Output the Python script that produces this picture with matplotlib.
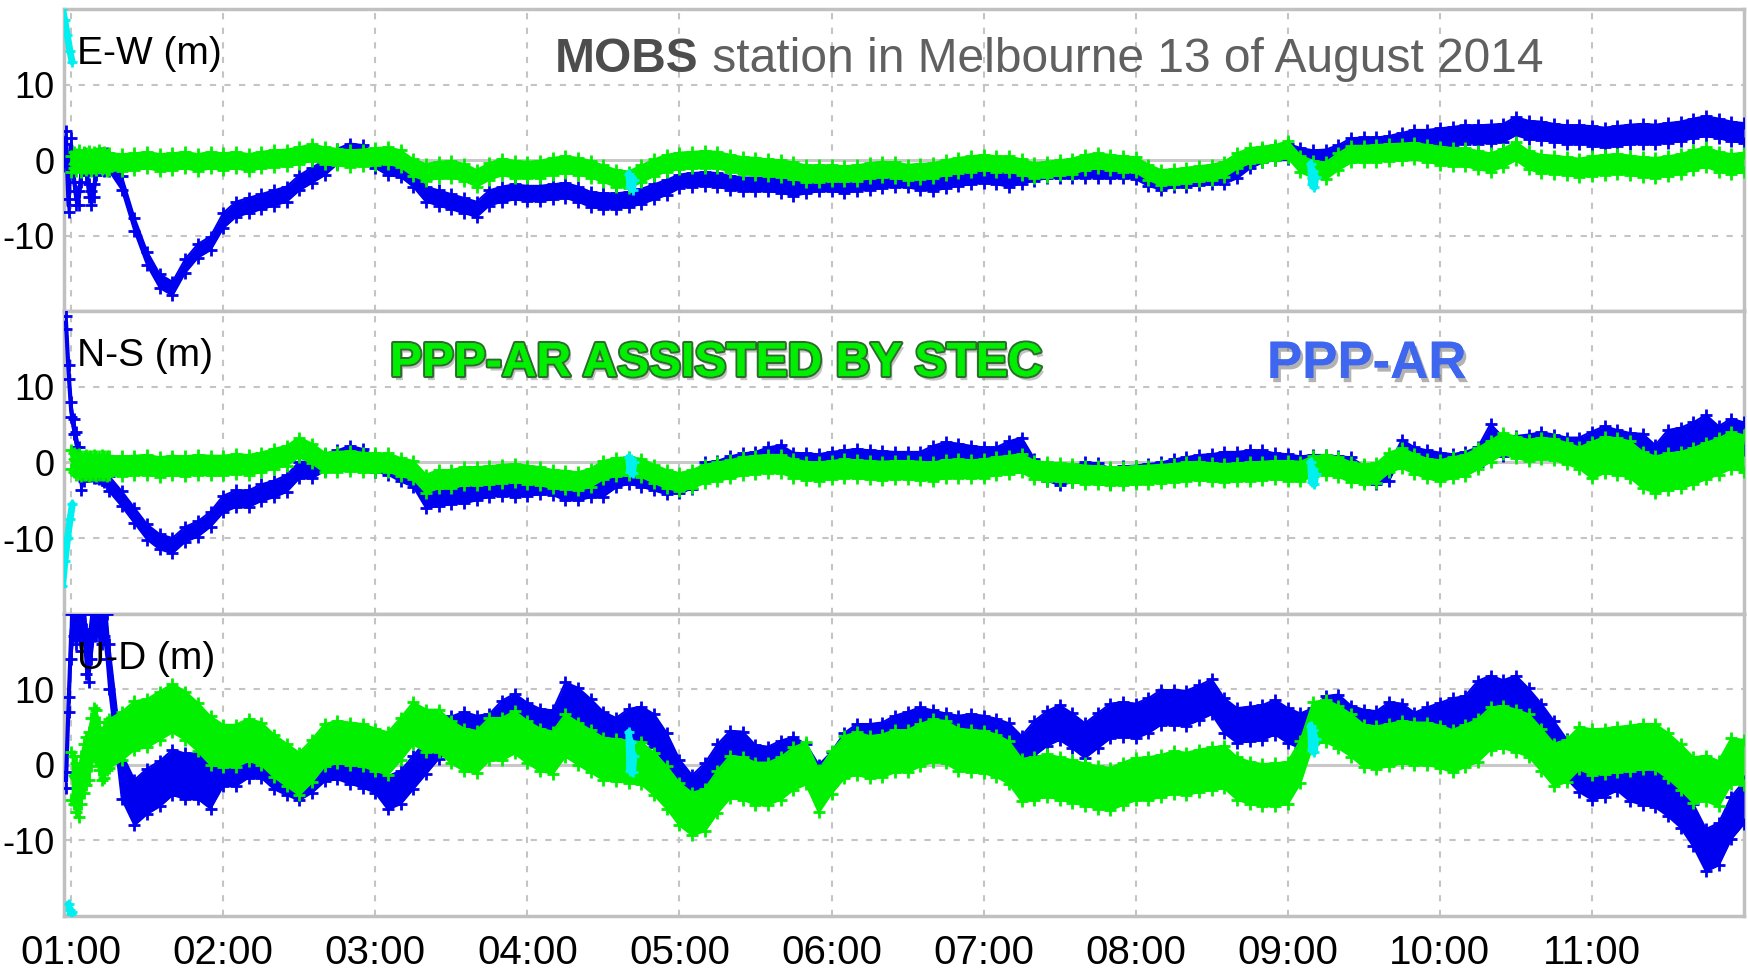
import numpy as np
import matplotlib
matplotlib.use("Agg")
import matplotlib.pyplot as plt
from matplotlib import font_manager
import matplotlib.patheffects as pe

# ---------------------------------------------------------------------------
# Time axis: minutes after 01:00 (1-min steps during start-up, then 5-min)
# ---------------------------------------------------------------------------
head_min = list(range(-3, 15))
body_min = list(range(15, 661, 5))
minutes = np.array(head_min + body_min, dtype=float)

nan = np.nan

# East-West (m)
ew_ppp_ar = [
    0, 3, -6, 2, -2, -5, -5, -2, 0, -1, -4, -5, -4, -1, 0, 0, -0.5, 0,
    -0.5, -3, -8.5, -13, -16, -17, -14, -12, -11, -8,
    -6.5, -6, -5.5, -5, -4.5, -3, -2, -1, 0.5, 1.2, 1, 0,
    -1, -1.2, -2.5, -4.5, -5, -5.5, -6, -6.5, -5, -4.5, -4.2, -4.4,
    -4.4, -4.2, -4, -4.5, -5.2, -5.4, -5.4, -5.2, -4.8, -4.2, -3.6, -2.8,
    -2.6, -2.5, -2.6, -3, -3.2, -3.2, -3.2, -3.4, -3.8, -3.5, -3.2, -3.2,
    -3.4, -3.2, -3, -2.8, -2.6, -2.7, -3, -3.2, -2.8, -2.5, -2.3, -2.1,
    -2.3, -2.6, -2.2, -1.8, -1.5, -1.4, -1.5, -1.4, -1.4, -1.5, -1.4, -1.6,
    -2.5, -3, -2.7, -2.6, -2.4, -2.3, -2.2, -1.5, -0.2, 0.6, 0.9, 1.2,
    0.6, 0.3, 0.4, 1, 1.9, 2, 2, 2.2, 2.6, 3, 3, 3,
    3.2, 3.4, 3.4, 3.5, 3.6, 4.5, 4, 3.9, 3.6, 3.4, 3.4, 3.2,
    3, 3.2, 3.4, 3.5, 3.4, 3.6, 3.8, 4.2, 4.5, 4.2, 3.8, 3.6,
]
ew_ppp_ar_stec = [
    nan, nan, nan, -0.5, 0, -0.3, 0.2, -0.4, 0, -0.2, 0.1, -0.3, 0, -0.2, 0.2, -0.1, 0, -0.3,
    -0.2, -0.3, -0.2, 0, -0.3, -0.2, 0, -0.3, 0, -0.2,
    0, -0.3, 0, 0.2, 0.3, 0.6, 1, 0.6, 0.4, 0.2, 0.3, 0.5,
    0.6, 0.2, -1, -1.6, -1.3, -1.2, -1.6, -2.4, -1.5, -0.9, -1.2, -1.3,
    -1.2, -0.8, -0.6, -0.8, -1.2, -1.8, -2.4, -2.6, -1.8, -1, -0.4, -0.1,
    0, 0.1, 0, -0.4, -0.7, -0.8, -1, -1.1, -1.4, -1.8, -1.8, -1.7,
    -1.8, -1.7, -1.4, -1.2, -1.3, -1.6, -1.5, -1.4, -1, -0.7, -0.5, -0.3,
    -0.5, -0.5, -0.9, -1.4, -1.2, -1, -0.8, -0.3, -0.1, -0.3, -0.5, -0.6,
    -1.6, -2.3, -2.2, -2, -1.8, -1.6, -1.2, -0.1, 0.6, 0.8, 1, 1.4,
    -0.5, -1.2, -1.4, -0.2, 0.8, 0.8, 0.9, 1, 1.1, 1.2, 0.9, 0.6,
    0.4, 0.4, 0, -0.3, 0.3, 1.2, 0, -0.5, -0.6, -0.8, -1, -0.8,
    -0.6, -0.5, -0.7, -0.9, -1, -0.8, -0.5, 0, 0.4, -0.2, -0.5, -0.3,
]

# North-South (m)
ns_ppp_ar = [
    nan, 18.5, 12, 7, 4.8, 3, 1, -2.6, -1.5, -0.4, -0.6, -0.8, -1, -1, -1.2, -1.3, -1.6, -2,
    -2.8, -4.8, -7, -9.2, -10.5, -11, -9.5, -8.8, -7.5, -5.5,
    -4.8, -4.8, -4, -3.5, -2.8, -1, -1, 0, 0.5, 1.1, 0.7, -0.2,
    -0.6, -1.5, -2.2, -5, -4.8, -4.5, -4.4, -4, -3.5, -3.4, -3.5, -3.4,
    -3.2, -3.3, -4, -4, -3.6, -3.5, -2.3, -1.8, -2.2, -2.7, -3.2, -3,
    -2.5, -1, -0.8, -0.2, 0.2, 0.4, 1, 1.3, 0.3, 0.2, 0.1, 0.4,
    0.6, 0.8, 0.6, 0.5, 0.4, 0.4, 0.4, 1.2, 1.7, 1.5, 1.2, 1,
    1, 1.8, 2.3, -0.5, -1.4, -2, -1.6, -1, -1.1, -1.8, -1.5, -1.4,
    -1.2, -1, -0.6, -0.3, 0, 0.1, 0.4, 0.4, 0.6, 0.6, 0.2, 0.1,
    -0.2, 0, 0, -0.2, -0.3, -1.5, -1.8, -1.4, 2, 1, 0.6, 0.1,
    -0.1, 0.2, 0.8, 3.9, 2.1, 2.3, 2.5, 2.8, 2.5, 2.1, 2.1, 2.3,
    3, 2.5, 2.1, 2, 0.5, 2.5, 2.8, 3.5, 4.5, 3, 4, 3.5,
]
ns_ppp_ar_stec = [
    nan, nan, nan, 0.4, 0, -0.3, -0.2, -0.5, -0.4, -0.3, -0.5, -0.4, -0.3, -0.5, -0.4, -0.3, -0.4, -0.5,
    -0.4, -0.5, -0.4, -0.3, -0.6, -0.4, -0.5, -0.3, -0.4, -0.4,
    -0.2, -0.3, 0, 0.5, 0.9, 2, 1.2, 0, 0.1, 0.2, 0, 0,
    0, -0.6, -1, -2.8, -2.2, -2.2, -1.8, -1.8, -1.7, -1.5, -1.4, -1.6,
    -1.8, -2.2, -2.3, -2.5, -2, -1, -0.6, -0.5, -0.7, -1.5, -2.2, -2.6,
    -2.2, -1.5, -1.2, -0.9, -0.5, -0.3, -0.2, -0.2, -0.8, -1.1, -1.2, -1,
    -0.8, -0.9, -1, -1.1, -1, -1, -1.1, -1.2, -0.9, -0.8, -0.9, -0.8,
    -0.5, -0.3, -0.1, -1, -1.2, -1.3, -1.4, -1.6, -1.7, -1.8, -1.8, -1.7,
    -1.6, -1.5, -1.4, -1.2, -1.1, -1.3, -1.4, -1.3, -1.2, -1.1, -1, -1.1,
    -1.2, -0.5, -0.3, -0.6, -1.3, -1.5, -1.4, 0, 0.6, -0.2, -0.8, -1.1,
    -0.7, -0.4, 0.5, 1.5, 2.5, 2, 1.6, 1.9, 1.7, 1.2, 0.6, 0.3,
    1, 0.8, 0.4, -1, -1.6, -1.2, -1, -0.5, 0.2, 0.8, 1.6, 1.2,
]

# Up-Down (m)
ud_ppp_ar = [
    nan, -2, 8, 17, 20, 19, 20, 18, 20, 15, 14, 17, 20, 20, 20, 19, 20, 17,
    13, -1.5, -5, -3.5, -2.5, -1, -1.5, -1.5, -2.8, -0.6,
    -0.6, 0.5, 0.5, -1, -1.8, -2.5, -1.5, 0, 0.3, -0.3, -0.8, -1.5,
    -3.7, -3, -1, 1, 3, 4.2, 4.8, 4.3, 4.5, 6.3, 7.2, 6,
    5.2, 5, 8.7, 8, 6.5, 4.8, 4, 5.2, 5.5, 4.5, 2, -1.5,
    -3.6, -2, 0.5, 2.3, 2.2, 0.4, 0.2, 1, 1.5, 0.5, -2.2, -0.5,
    2, 3.2, 3.2, 3.4, 4.3, 4.8, 5.4, 5, 4.6, 4.3, 4.5, 4.2,
    3.8, 3.2, 1.5, 3.5, 4.8, 5.6, 4.5, 3.2, 4.5, 5.8, 6, 5.8,
    6.5, 7.6, 7.6, 7.5, 8.2, 9, 6.5, 5.2, 5.4, 5.6, 6.3, 5.2,
    4.5, 5.2, 6.8, 7, 5.5, 5, 4.8, 6, 5.8, 4.6, 5.3, 5.6,
    6.2, 6.5, 8.5, 9.2, 8.6, 9.2, 7.5, 5.5, 3.2, 0.8, -1, -1.8,
    -1.4, -0.6, -2, -2.5, -2.8, -4, -5.5, -8, -11.3, -10.5, -7, -5,
]
ud_ppp_ar_stec = [
    nan, nan, nan, -1.5, -2, -3, -3.7, -2, -0.5, 0.5, 1.2, 3, 4.3, 4, 2.5, 1.2, 1.5, 2.5,
    2.8, 3.8, 5.2, 5.5, 6.5, 7.5, 6.5, 5, 3.2, 2.5,
    2.5, 3.3, 2.8, 1.2, 0, -1.2, 0.5, 2.6, 3, 2.8, 2.6, 2,
    1.5, 3.4, 5.5, 4.5, 4.5, 3, 2, 1.7, 3.4, 3.4, 4.3, 3,
    2, 1.6, 3.9, 2.8, 1.8, 0.8, 0.6, 0.4, 0.2, -1.2, -3, -5.2,
    -6.5, -6, -3.6, -1.6, -1.8, -2.5, -2.5, -1.8, -0.5, 0.2, -3.5, -1,
    1, 1.5, 1, 1.2, 1.8, 1.8, 2.6, 3.2, 3, 2, 1.8, 1.7,
    1.2, 0.3, -2, -1.8, -1.4, -1.8, -2.2, -2.6, -3, -3.2, -2.5, -1.9,
    -1.8, -1.5, -1, -1.2, -0.8, -0.5, -0.3, -1.8, -2.4, -2.7, -2.6, -2.4,
    0.4, 5.5, 5.8, 5, 3.9, 2.5, 2.3, 2.6, 3, 2.8, 2.8, 2.4,
    1.8, 2.5, 3.2, 4.8, 5, 4.5, 3.9, 2, 0, 0.5, 2.2, 1.7,
    1.8, 2, 2.2, 2.4, 2.4, 1.2, -0.3, -2, -1.8, -2.5, 0.5, 0.3,
]

# Scatter half-width of each trace, one value per clock hour (00h .. 11h)
ew_ppp_ar_spread = [0.8, 0.9, 1.0, 1.0, 1.0, 0.9, 0.9, 0.9, 0.9, 1.0, 1.2, 1.3]
ew_stec_spread = [1.0, 1.1, 1.1, 1.1, 1.1, 1.1, 1.0, 1.0, 1.0, 1.1, 1.2, 1.3]
ns_ppp_ar_spread = [0.9, 1.0, 1.1, 1.0, 1.0, 1.0, 1.0, 1.0, 1.0, 1.0, 1.2, 1.8]
ns_stec_spread = [1.2, 1.3, 1.3, 1.2, 1.2, 1.2, 1.2, 1.2, 1.2, 1.3, 1.4, 2.4]
ud_ppp_ar_spread = [1.0, 3.0, 2.2, 2.2, 2.2, 2.2, 2.2, 2.3, 2.3, 2.3, 2.6, 2.8]
ud_stec_spread = [3.0, 3.2, 2.8, 2.8, 2.8, 2.8, 2.8, 2.8, 2.8, 2.8, 2.8, 3.0]

# Float (not yet fixed) epochs, shown in cyan: minutes after 01:00, value
ew_float_min = [-3.4, -2.5, -1.5, -0.5, 0.4, nan, 220, 220.5, 221, 221.5, 222, nan, 489, 489.5, 490, 490.5, 491]
ew_float = [20, 18.5, 16.5, 14.5, 13, nan, -1.8, -3.6, -2.4, -3.9, -2.6, nan, -0.5, -3.2, -1.4, -3.6, -2.2]
ns_float_min = [-3.4, -2.4, -1.4, -0.4, 0.5, nan, 220, 220.5, 221, 221.5, 222, nan, 489, 489.5, 490, 490.5, 491]
ns_float = [-16.3, -13, -10, -7.5, -5.5, nan, 0.7, -1.2, 0.4, -1.4, 0.0, nan, 0.1, -2.6, -0.8, -2.9, -1.5]
ud_float_min = [-1.0, -0.5, 0.0, 0.5, nan, 220, 220.5, 221, 221.5, 222, nan, 489, 489.5, 490, 490.5, 491]
ud_float = [-18.4, -19.2, -19.8, -19.5, nan, 4.3, -0.8, 3.0, -1.0, 1.2, nan, 5.2, 1.9, 4.6, 1.7, 3.4]

panel_names = ["E-W (m)", "N-S (m)", "U-D (m)"]
hour_labels = ["01:00", "02:00", "03:00", "04:00", "05:00", "06:00",
               "07:00", "08:00", "09:00", "10:00", "11:00"]
y_ticks = [10, 0, -10]

# ---------------------------------------------------------------------------
available = {f.name for f in font_manager.fontManager.ttflist}
narrow = "Liberation Sans Narrow" if "Liberation Sans Narrow" in available else "Liberation Sans"
regular = "Liberation Sans" if "Liberation Sans" in available else "DejaVu Sans"

BLUE = "#0000f0"
GREEN = "#00f000"
CYAN = "#00f0f0"
GRID = "#c4c4c4"

W, H = 1748, 971
fig = plt.figure(figsize=(W / 100, H / 100), dpi=100)
fig.patch.set_facecolor("white")

left_px, right_px = 64, 1744
top_px, bottom_px = 9, 916
panel_h = (bottom_px - top_px) / 3.0


def spread_for(spread):
    idx = np.clip(np.floor((minutes + 60) / 60).astype(int), 0, len(spread) - 1)
    return np.asarray(spread, dtype=float)[idx]


def draw_trace(ax, values, spread, color, z):
    c = np.asarray(values, dtype=float)
    hw = spread_for(spread)
    ax.fill_between(minutes, c - hw, c + hw, color=color, lw=0, zorder=z)
    for edge in (c - hw, c + hw):
        ax.plot(minutes, edge, color=color, lw=1.5, marker="+", ms=8, mew=2,
                zorder=z)
    ax.plot(minutes, c, color=color, lw=3, zorder=z)


series = [
    (ew_ppp_ar, ew_ppp_ar_spread, ew_ppp_ar_stec, ew_stec_spread, ew_float_min, ew_float),
    (ns_ppp_ar, ns_ppp_ar_spread, ns_ppp_ar_stec, ns_stec_spread, ns_float_min, ns_float),
    (ud_ppp_ar, ud_ppp_ar_spread, ud_ppp_ar_stec, ud_stec_spread, ud_float_min, ud_float),
]

axes = []
for i, (ppp, ppp_sp, stec, stec_sp, fmin, fval) in enumerate(series):
    top = top_px + i * panel_h
    ax = fig.add_axes([left_px / W, 1 - (top + panel_h) / H,
                       (right_px - left_px) / W, panel_h / H])
    axes.append(ax)
    ax.set_xlim(-2.8, 660)
    ax.set_ylim(-20, 20)

    # grid: dashed hours and +/-10 m, solid zero line
    for h in range(len(hour_labels)):
        ax.axvline(h * 60, color=GRID, lw=1.5, ls=(0, (3, 4)), zorder=1)
    for y in (10, -10):
        ax.axhline(y, color=GRID, lw=1.5, ls=(0, (3, 4)), zorder=1)
    ax.axhline(0, color="#c8c8c8", lw=2.2, zorder=1)

    draw_trace(ax, ppp, ppp_sp, BLUE, 3)
    draw_trace(ax, stec, stec_sp, GREEN, 4)
    ax.plot(fmin, fval, color=CYAN, lw=5, marker="+", ms=7, mew=2,
            solid_capstyle="round", zorder=5)

    for s in ax.spines.values():
        s.set_color("#c0c0c0")
        s.set_linewidth(2.5)

    ax.set_yticks(y_ticks)
    ax.set_yticklabels([str(v) for v in y_ticks], family=narrow, fontsize=26)
    ax.tick_params(axis="y", length=0, pad=7)
    ax.set_xticks([h * 60 for h in range(len(hour_labels))])
    if i == 2:
        ax.set_xticklabels(hour_labels, family=narrow, fontsize=29)
        ax.tick_params(axis="x", length=0, pad=13)
    else:
        ax.set_xticklabels([])
        ax.tick_params(axis="x", length=0)

    ax.annotate(panel_names[i], xy=(0, 1), xycoords="axes fraction",
                xytext=(13, -55), textcoords="offset pixels",
                ha="left", va="baseline", family=narrow, fontsize=28,
                color="black", zorder=10)

# title: bold station code followed by the regular text
t1 = fig.text(555 / W, 1 - 72 / H, "MOBS", family=regular, weight="bold",
              fontsize=34.5, color="#4d4d4d", ha="left", va="baseline")
axes[0].annotate(" station in Melbourne 13 of August 2014", xy=(1, 0),
                 xycoords=t1, ha="left", va="bottom", family=regular,
                 fontsize=34.5, color="#606060", annotation_clip=False)

# method labels
shadow = [pe.withSimplePatchShadow(offset=(2, -3), shadow_rgbFace="#888888", alpha=0.5),
          pe.withStroke(linewidth=3, foreground="#2f6b2f"), pe.Normal()]
fig.text(390 / W, 1 - 376 / H, "PPP-AR ASSISTED BY STEC", family=regular,
         weight="bold", fontsize=34.5, color="#00ee00", ha="left",
         va="baseline", path_effects=shadow, zorder=20)
fig.text(1267 / W, 1 - 378 / H, "PPP-AR", family=regular, weight="bold",
         fontsize=38, color="#3e66ee", ha="left", va="baseline", zorder=20,
         path_effects=[pe.withSimplePatchShadow(offset=(2, -3), shadow_rgbFace="#666666", alpha=0.5),
                       pe.Normal()])

fig.savefig("out.png", dpi=100, facecolor="white")
